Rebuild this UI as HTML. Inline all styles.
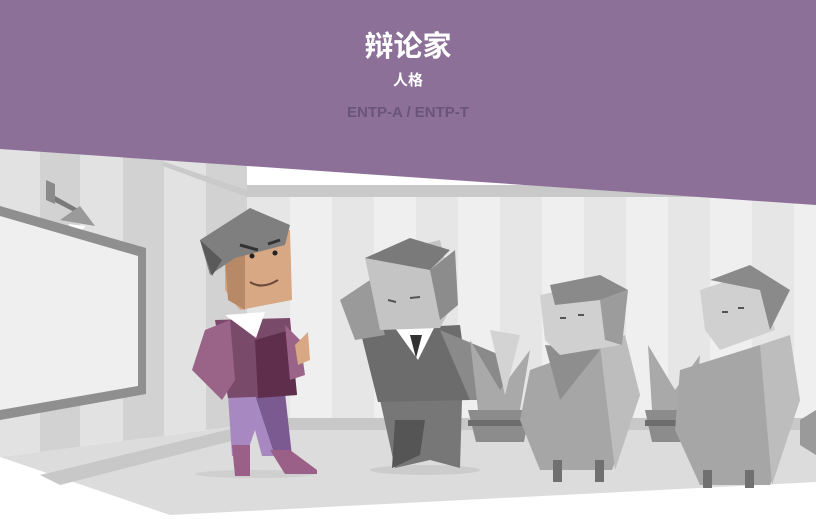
<!DOCTYPE html>
<html><head><meta charset="utf-8">
<style>
html,body{margin:0;padding:0;width:816px;height:519px;overflow:hidden;background:#fff;}
svg{display:block}
text{font-family:"Liberation Sans","Noto Sans CJK SC",sans-serif;}
</style></head>
<body>
<svg width="816" height="519" viewBox="0 0 816 519">
  <rect x="0" y="0" width="816" height="519" fill="#ffffff"/>
  <g>
    <rect x="247" y="190" width="569" height="240" fill="#e6e6e6"/>
    <rect x="290" y="190" width="42" height="240" fill="#efefef"/>
    <rect x="374" y="190" width="42" height="240" fill="#efefef"/>
    <rect x="458" y="190" width="42" height="240" fill="#efefef"/>
    <rect x="542" y="190" width="42" height="240" fill="#efefef"/>
    <rect x="626" y="190" width="42" height="240" fill="#efefef"/>
    <rect x="710" y="190" width="42" height="240" fill="#efefef"/>
    <rect x="794" y="190" width="42" height="240" fill="#efefef"/>
    <rect x="247" y="185" width="569" height="12" fill="#c9c9c9"/>
    <rect x="247" y="418" width="569" height="12" fill="#c8c8c8"/>
  </g>
  <g>
    <polygon points="0,148 247,160 247,425 0,457" fill="#e2e2e2"/>
    <polygon points="40,150 80,152 80,447 40,452" fill="#d2d2d2"/>
    <polygon points="123,154 164,156 164,436 123,441" fill="#d2d2d2"/>
    <polygon points="206,158 247,160 247,425 206,430" fill="#d2d2d2"/>
    <polygon points="165,162 247,190 247,197 160,165" fill="#cacaca"/>
  </g>
  <polygon points="0,457 247,425 247,430 816,430 816,482 170,515" fill="#dcdcdc"/>
  <polygon points="40,475 247,425 247,437 60,485" fill="#c8c8c8"/>
  <polygon points="0,0 816,0 816,205 0,149" fill="#8c7098"/>
  <text x="408" y="56" text-anchor="middle" font-size="29" font-weight="bold" fill="#ffffff">辩论家</text>
  <text x="408" y="85" text-anchor="middle" font-size="15" font-weight="bold" fill="#ffffff">人格</text>
  <text x="408" y="117" text-anchor="middle" font-size="15" font-weight="bold" fill="#6a5478">ENTP-A / ENTP-T</text>

  <g>
    <polygon points="46,180 55,184 55,204 46,200" fill="#8a8a8a"/>
    <polygon points="55,196 80,210 78,214 55,202" fill="#7a7a7a"/>
    <polygon points="60,220 80,206 95,226" fill="#9a9a9a"/>
    <polygon points="68,224 86,226 77,234" fill="#ffffff"/>
  </g>
  <g>
    <polygon points="0,206 146,248 146,394 0,420" fill="#8f8f8f"/>
    <polygon points="0,216 138,256 138,386 0,410" fill="#efefef"/>
  </g>

  <g>
    <ellipse cx="255" cy="474" rx="60" ry="4" fill="#cfcfcf"/>
    <polygon points="228,395 285,393 282,456 262,456 255,430 246,456 232,456" fill="#a888c0"/>
    <polygon points="255,395 285,393 292,456 275,456" fill="#7a5a90"/>
    <polygon points="232,445 250,445 250,476 235,476" fill="#9a6088"/>
    <polygon points="270,450 290,450 317,470 317,474 285,474" fill="#9a6088"/>
    <polygon points="215,320 290,318 297,395 228,398" fill="#7a4a6a"/>
    <polygon points="255,340 290,330 297,395 258,398" fill="#5e2e4c"/>
    <polygon points="205,330 230,320 235,380 222,400 192,370" fill="#9a6488"/>
    <polygon points="285,325 300,340 305,375 290,380" fill="#9a6488"/>
    <polygon points="295,345 308,332 310,360 298,365" fill="#d7a883"/>
    <polygon points="225,315 265,312 256,338" fill="#ffffff"/>
    <polygon points="225,250 290,230 292,300 240,310 225,290" fill="#d7a883"/>
    <polygon points="225,260 245,255 245,310 228,300" fill="#b88966"/>
    <polygon points="200,240 250,208 290,225 285,245 235,258 210,275" fill="#7f7f7f"/>
    <polygon points="200,240 212,276 222,260" fill="#5a5a5a"/>
    <circle cx="252" cy="256" r="2.5" fill="#222"/>
    <circle cx="275" cy="253" r="2.5" fill="#222"/>
    <path d="M240 245 L258 250 M268 244 L280 240" stroke="#333" stroke-width="3"/>
    <path d="M250 282 Q262 290 278 280" stroke="#6a4a3a" stroke-width="2" fill="none"/>
  </g>

  <g>
    <ellipse cx="425" cy="470" rx="55" ry="5" fill="#cccccc"/>
    <polygon points="380,400 462,400 460,468 430,460 395,468" fill="#777777"/>
    <polygon points="395,420 425,420 420,455 392,468" fill="#555555"/>
    <polygon points="360,330 460,325 470,400 378,402" fill="#6c6c6c"/>
    <polygon points="440,330 500,355 515,400 470,400" fill="#8a8a8a"/>
    <polygon points="340,300 370,280 385,335 355,340" fill="#9a9a9a"/>
    <polygon points="395,328 435,326 418,360" fill="#ffffff"/>
    <polygon points="410,335 422,335 416,358" fill="#333333"/>
    <polygon points="365,258 440,240 455,300 440,328 380,330" fill="#c4c4c4"/>
    <polygon points="365,258 410,238 450,250 430,270" fill="#7a7a7a"/>
    <polygon points="430,270 455,250 458,305 440,320" fill="#8c8c8c"/>
    <path d="M388 300 L396 302 M410 298 L420 297" stroke="#555" stroke-width="2"/>
  </g>

  <g>
    <polygon points="470,340 500,390 530,350 520,410 478,410" fill="#a9a9a9"/>
    <polygon points="490,330 505,395 520,335" fill="#d3d3d3"/>
    <polygon points="468,410 530,410 524,442 476,442" fill="#8c8c8c"/>
    <rect x="468" y="420" width="62" height="6" fill="#6d6d6d"/>
  </g>
  <g>
    <polygon points="648,345 675,390 700,355 695,410 652,410" fill="#a9a9a9"/>
    <polygon points="645,410 700,410 695,442 652,442" fill="#8c8c8c"/>
    <rect x="645" y="420" width="55" height="6" fill="#6d6d6d"/>
  </g>

  <g>
    <polygon points="530,370 600,345 640,395 612,470 540,470 520,420" fill="#a6a6a6"/>
    <polygon points="600,345 625,335 640,395 615,470" fill="#bdbdbd"/>
    <polygon points="545,345 600,350 560,400" fill="#8e8e8e"/>
    <rect x="553" y="460" width="9" height="22" fill="#707070"/>
    <rect x="595" y="460" width="9" height="22" fill="#707070"/>
    <polygon points="540,295 610,280 620,345 560,355 545,340" fill="#d0d0d0"/>
    <polygon points="550,285 600,275 628,290 600,300 555,305" fill="#8a8a8a"/>
    <polygon points="600,300 628,290 622,345 605,340" fill="#9c9c9c"/>
    <path d="M560 318 L566 318 M578 315 L584 315" stroke="#555" stroke-width="2"/>
  </g>

  <g>
    <polygon points="680,370 760,345 800,400 770,485 700,485 675,430" fill="#a6a6a6"/>
    <polygon points="760,345 790,335 800,400 772,485" fill="#bdbdbd"/>
    <rect x="703" y="470" width="9" height="18" fill="#707070"/>
    <rect x="745" y="470" width="9" height="18" fill="#707070"/>
    <polygon points="700,290 760,270 775,330 720,350 705,330" fill="#d0d0d0"/>
    <polygon points="710,280 750,265 790,290 770,330 760,290" fill="#8a8a8a"/>
    <path d="M722 312 L728 312 M738 308 L744 308" stroke="#555" stroke-width="2"/>
    <polygon points="800,420 816,410 816,455 800,445" fill="#9a9a9a"/>
  </g>
</svg>
</body></html>
